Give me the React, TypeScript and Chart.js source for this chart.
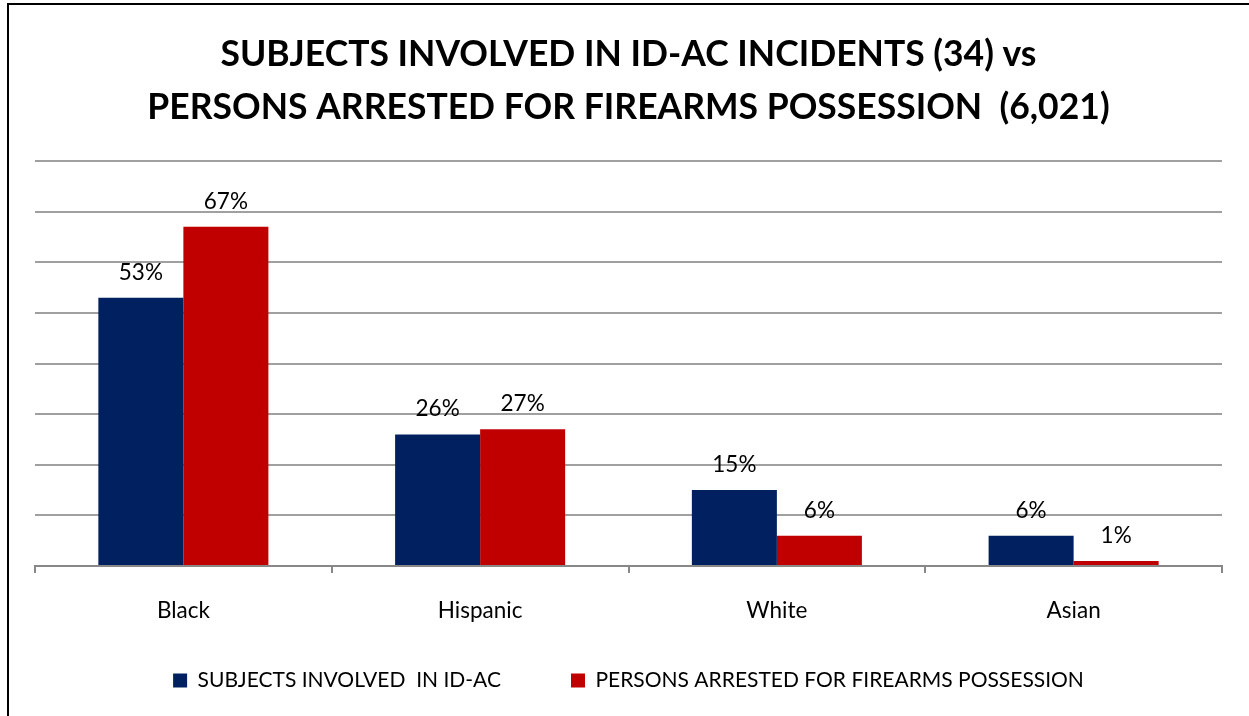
import React, { useEffect, useRef } from "react";
import { Chart, registerables } from "chart.js";

Chart.register(...registerables);

const categories = ["Black", "Hispanic", "White", "Asian"];
const subjectsValues = [53, 26, 15, 6];
const arrestedValues = [67, 27, 6, 1];
const seriesNames = ["SUBJECTS INVOLVED  IN ID-AC", "PERSONS ARRESTED FOR FIREARMS POSSESSION"];
const titleLines = [
  "SUBJECTS INVOLVED IN ID-AC INCIDENTS (34) vs",
  "PERSONS ARRESTED FOR FIREARMS POSSESSION  (6,021)",
];

const FONT = "Lato, 'Open Sans', sans-serif";

const dataLabels = {
  id: "dataLabels",
  afterDatasetsDraw(chart: any) {
    const ctx = chart.ctx;
    ctx.save();
    ctx.font = `22.5px ${FONT}`;
    ctx.fillStyle = "#000";
    ctx.textAlign = "center";
    ctx.textBaseline = "alphabetic";
    chart.data.datasets.forEach((ds: any, di: number) => {
      const meta = chart.getDatasetMeta(di);
      meta.data.forEach((bar: any, i: number) => {
        ctx.fillText(ds.data[i] + "%", bar.x, bar.y - 18);
      });
    });
    ctx.restore();
  },
};

// Pull the legend row closer to the axis labels (its label padding also sets the horizontal gap).
const legendShift = {
  id: "legendShift",
  afterLayout(chart: any) {
    const lg = chart.legend;
    if (lg) {
      lg.top -= 48;
      lg.bottom -= 48;
    }
  },
};

export default function App() {
  const ref = useRef<HTMLCanvasElement>(null);
  useEffect(() => {
    const chart = new Chart(ref.current!, {
      type: "bar",
      data: {
        labels: categories,
        datasets: [
          { label: seriesNames[0], data: subjectsValues, backgroundColor: "#002060", borderWidth: 0 },
          { label: seriesNames[1], data: arrestedValues, backgroundColor: "#C00000", borderWidth: 0 },
        ],
      },
      options: {
        responsive: false,
        animation: false,
        maintainAspectRatio: false,
        datasets: { bar: { categoryPercentage: 0.573, barPercentage: 1.0 } },
        layout: { padding: { top: 23, left: 26, right: 27, bottom: 0 } },
        plugins: {
          title: {
            display: true,
            text: titleLines,
            color: "#000",
            font: { family: FONT, size: 35.5, weight: "bold", lineHeight: 53 / 35.5 },
            padding: { top: 0, bottom: 27 },
          },
          legend: {
            position: "bottom",
            labels: {
              color: "#000",
              font: { family: FONT, size: 21 },
              boxWidth: 14,
              boxHeight: 14,
              padding: 70,
            },
          },
          tooltip: { enabled: false },
        },
        scales: {
          x: {
            grid: { display: true, drawOnChartArea: false, drawTicks: true, tickLength: 7, color: "#888", lineWidth: 2, offset: true },
            border: { display: true, color: "#888", width: 2 },
            ticks: { color: "#000", font: { family: FONT, size: 22.5 }, padding: 24 },
          },
          y: {
            min: 0,
            max: 80,
            ticks: { display: false, stepSize: 10 },
            grid: { color: "#a0a0a0", lineWidth: 2, drawTicks: false },
            border: { display: false },
          },
        },
      },
      plugins: [dataLabels, legendShift],
    });
    return () => chart.destroy();
  }, []);
  return (
    <div
      style={{
        position: "fixed",
        left: 7,
        top: 3,
        width: 1270,
        height: 770,
        border: "2px solid #000",
        background: "#fff",
        boxSizing: "border-box",
      }}
    >
      <canvas ref={ref} width={1240} height={744} style={{ display: "block" }} />
    </div>
  );
}
